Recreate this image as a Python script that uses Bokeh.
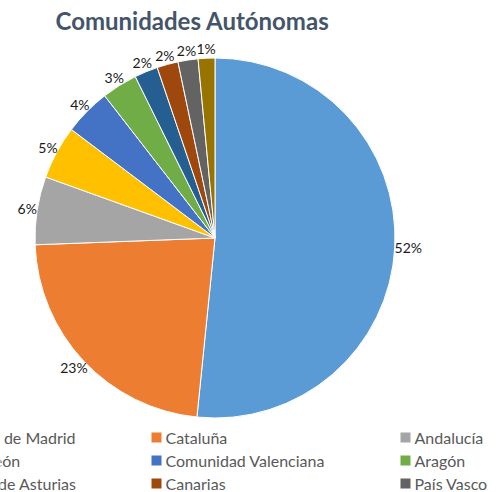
import math
from bokeh.plotting import figure
from bokeh.models import Range1d, ColumnDataSource
from bokeh.core.properties import value
from bokeh.embed import file_html
from bokeh.resources import INLINE

# ---- data ----
title = "Comunidades Autónomas"
regions = ["Comunidad de Madrid", "Cataluña", "Andalucía", "Castilla y León",
           "Comunidad Valenciana", "Aragón", "Principado de Asturias", "Canarias",
           "País Vasco", "Galicia"]
shares = [51.6, 22.8, 6.1, 4.8, 4.2, 3.2, 2.1, 1.9, 1.8, 1.5]
labels = ["52%", "23%", "6%", "5%", "4%", "3%", "2%", "2%", "2%", "1%"]
colors = ["#5B9BD5", "#ED7D31", "#A5A5A5", "#FFC000", "#4472C4", "#70AD47",
          "#255E91", "#9E480E", "#636363", "#997300"]

# ---- geometry (picture pixels; data y = H - picture y) ----
W, H = 498, 492
def py(y):
    return H - y

cx, cy, R = 214.5, py(237.5), 180.0

p = figure(width=W, height=H, x_range=Range1d(0, W), y_range=Range1d(0, H),
           output_backend="svg", toolbar_location=None, min_border=0)
p.axis.visible = False
p.grid.visible = False
p.outline_line_color = None
p.background_fill_color = "white"
p.border_fill_color = "white"

total = sum(shares)
starts, ends, mids = [], [], []
acc = 0.0
for s in shares:
    a0 = acc / total * 2 * math.pi
    acc += s
    a1 = acc / total * 2 * math.pi
    starts.append(math.pi / 2 - a0)
    ends.append(math.pi / 2 - a1)
    mids.append((a0 + a1) / 2)

src = ColumnDataSource(dict(start=starts, end=ends, color=colors))
p.wedge(x=cx, y=cy, radius=R, start_angle="start", end_angle="end",
        direction="clock", fill_color="color", line_color="white", line_width=1,
        source=src)

# data labels at outside end: label box touches the rim at the slice's mid angle
lx, ly, xo, yo = [], [], [], []
for m, t in zip(mids, labels):
    r = R + 3
    lx.append(cx + r * math.sin(m))
    ly.append(cy + r * math.cos(m))
    w, h = 7.0 * len(t), 13.0
    xo.append(w / 2 * math.sin(m))
    yo.append(-h / 2 * math.cos(m))
lsrc = ColumnDataSource(dict(x=lx, y=ly, text=labels, xo=xo, yo=yo))
p.text(x="x", y="y", text="text", x_offset="xo", y_offset="yo", source=lsrc,
       text_align="center", text_baseline="middle",
       text_font=value("Lato"), text_font_size="14px", text_color="#1a1a1a")

# title
p.text(x=[192], y=[py(20)], text=[title], text_align="center", text_baseline="middle",
       text_font=value("Lato"), text_font_size="24px", text_font_style="bold",
       text_color="#44546A")

# legend (3 columns, row-major)
col_x = [-95, 151, 400]
row_y = [437, 460, 483, 506]
leg_x, leg_y, sq_x, sq_y, leg_c, leg_t = [], [], [], [], [], []
for i, (name, c) in enumerate(zip(regions, colors)):
    col, row = i % 3, i // 3
    sq_x.append(col_x[col] + 5)
    sq_y.append(py(row_y[row]))
    leg_x.append(col_x[col] + 14)
    leg_y.append(py(row_y[row]))
    leg_c.append(c)
    leg_t.append(name)
p.scatter(x=sq_x, y=sq_y, marker="square", size=10, fill_color=leg_c, line_color=None)
p.text(x=leg_x, y=leg_y, text=leg_t, text_align="left", text_baseline="middle",
       text_font=value("Lato"), text_font_size="16px", text_color="#595959")

open("out.html", "w").write(file_html(p, INLINE))
